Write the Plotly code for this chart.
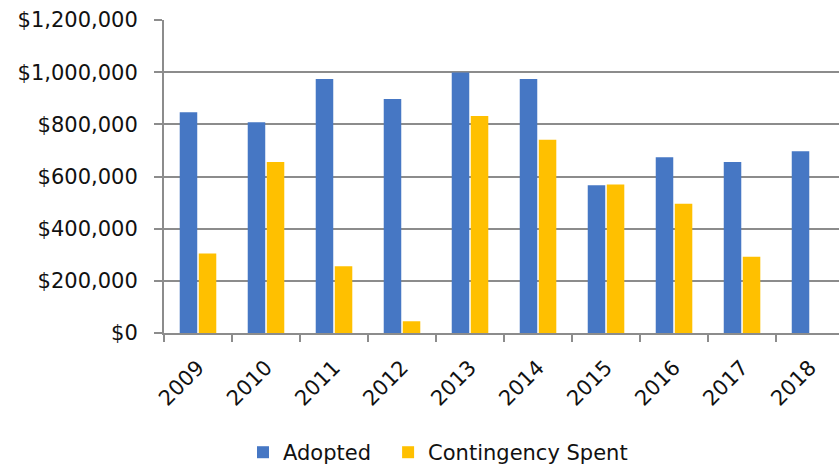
import plotly.graph_objects as go

years = ["2009", "2010", "2011", "2012", "2013", "2014", "2015", "2016", "2017", "2018"]
adopted = [846000, 808000, 974000, 897000, 999000, 974000, 566000, 674000, 656000, 697000]
contingency = [305000, 656000, 256000, 45000, 832000, 741000, 569000, 496000, 292000, None]
y_ticks = [0, 200000, 400000, 600000, 800000, 1000000, 1200000]

FONT = "DejaVu Sans"
GRID = "#8c8c8c"

fig = go.Figure()
fig.add_trace(go.Bar(x=years, y=adopted, name="Adopted", legend="legend",
                     marker=dict(color="#4677C4", line=dict(width=0))))
fig.add_trace(go.Bar(x=years, y=contingency, name="Contingency Spent", legend="legend2",
                     marker=dict(color="#FFC000", line=dict(width=0))))

leg_common = dict(orientation="h", yanchor="middle", y=-0.382, xanchor="left",
                  font=dict(family=FONT, size=21, color="#111"), itemwidth=30,
                  bgcolor="rgba(0,0,0,0)")

fig.update_layout(
    width=839, height=468,
    margin=dict(l=164, r=0, t=20, b=134.5, autoexpand=False),
    paper_bgcolor="white", plot_bgcolor="white",
    barmode="group", bargap=0.44, bargroupgap=0.08,
    font=dict(family=FONT, size=21, color="#111"),
    showlegend=True,
    legend=dict(x=0.117, **leg_common),
    legend2=dict(x=0.332, **leg_common),
)
fig.update_xaxes(
    type="category", range=[-0.5, 9.426],
    showline=True, linecolor=GRID, linewidth=2,
    ticks="outside", tickson="boundaries", ticklen=7, tickcolor=GRID, tickwidth=2,
    tickangle=-45, showgrid=False, ticklabelstandoff=12, automargin=False,
    tickfont=dict(family=FONT, size=21, color="#111"),
)
fig.update_yaxes(
    range=[0, 1200000], tickvals=y_ticks, tickformat="$,.0f",
    showline=True, linecolor=GRID, linewidth=2,
    ticks="outside", ticklen=8, tickcolor=GRID, tickwidth=2,
    showgrid=True, gridcolor=GRID, gridwidth=2, zeroline=False, ticklabelstandoff=12,
    automargin=False,
    tickfont=dict(family=FONT, size=21, color="#111"),
)

fig.write_html("out.html")
